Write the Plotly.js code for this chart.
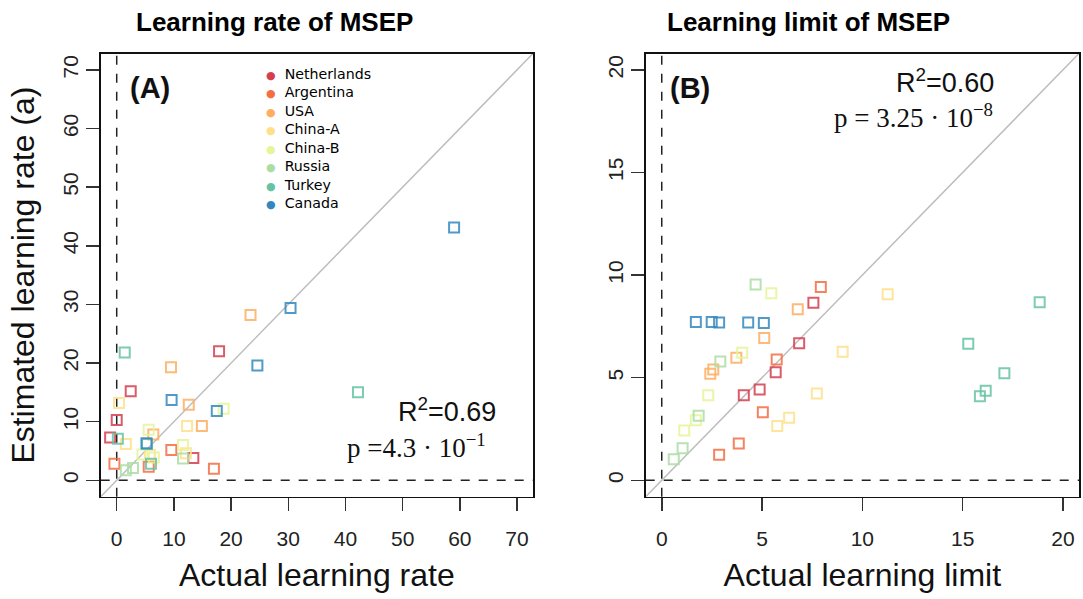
<!DOCTYPE html>
<html>
<head>
<meta charset="utf-8">
<script src="https://cdn.plot.ly/plotly-3.0.1.min.js"></script>
<style>html,body{margin:0;padding:0;background:#fff;}#chart{width:1083px;height:599px;}</style>
</head>
<body>
<div id="chart"></div>
<script>
// ---------- data ----------
const countries = ["Netherlands","Argentina","USA","China-A","China-B","Russia","Turkey","Canada"];
const colors = ["#D53E4F","#F46D43","#FDAE61","#FEE08B","#E6F598","#ABDDA4","#66C2A5","#3288BD"];

// Panel A: learning rate (actual vs estimated)
const rateActual = {
  "Netherlands": [17.9, 2.45, 0.0, -1.15, 13.4],
  "Argentina":   [9.55, -0.4, 5.6, 17.0],
  "USA":         [23.4, 9.5, 12.6, 14.9, 6.4],
  "China-A":     [0.4, 12.3, 1.6, 12.1, 5.8],
  "China-B":     [18.7, 5.6, 11.6, 4.5, 6.5],
  "Russia":      [11.6, 1.6, 2.85],
  "Turkey":      [1.4, 42.2, 0.2, 5.3, 6.0],
  "Canada":      [59.0, 30.4, 24.6, 9.6, 17.5, 5.2]
};
const rateEstimated = {
  "Netherlands": [22.0, 15.2, 10.3, 7.3, 3.8],
  "Argentina":   [5.15, 2.8, 2.3, 1.95],
  "USA":         [28.2, 19.3, 12.9, 9.25, 7.8],
  "China-A":     [13.2, 9.25, 6.2, 4.6, 4.3],
  "China-B":     [12.2, 8.6, 6.0, 4.4, 3.9],
  "Russia":      [3.7, 1.7, 2.1],
  "Turkey":      [21.8, 15.0, 7.1, 6.2, 2.8],
  "Canada":      [43.1, 29.4, 19.6, 13.7, 11.8, 6.3]
};
// Panel B: learning limit (actual vs estimated)
const limitActual = {
  "Netherlands": [7.56, 6.85, 5.68, 4.88, 4.09],
  "Argentina":   [7.93, 5.73, 5.04, 3.84, 2.86],
  "USA":         [6.78, 5.11, 3.72, 2.57, 2.42],
  "China-A":     [11.26, 9.02, 7.73, 6.35, 5.76],
  "China-B":     [5.46, 4.01, 2.32, 1.70, 1.12],
  "Russia":      [4.68, 2.92, 1.84, 1.04, 0.60],
  "Turkey":      [18.84, 15.28, 17.08, 16.15, 15.86],
  "Canada":      [1.70, 2.49, 2.86, 4.31, 5.09]
};
const limitEstimated = {
  "Netherlands": [8.65, 6.68, 5.26, 4.43, 4.14],
  "Argentina":   [9.42, 5.89, 3.31, 1.79, 1.25],
  "USA":         [8.34, 6.94, 5.97, 5.40, 5.19],
  "China-A":     [9.07, 6.26, 4.23, 3.05, 2.64],
  "China-B":     [9.12, 6.21, 4.14, 2.92, 2.43],
  "Russia":      [9.54, 5.79, 3.15, 1.56, 1.02],
  "Turkey":      [8.68, 6.65, 5.22, 4.36, 4.10],
  "Canada":      [7.72, 7.72, 7.69, 7.69, 7.66]
};
const rateTicks = [0,10,20,30,40,50,60,70];
const limitTicks = [0,5,10,15,20];
const rateRange = [-2.8, 72.8];
const limitRange = [-0.8, 20.8];

// ---------- helpers ----------
const W = 1083, H = 599;
const px = v => v / W;
const py = v => 1 - v / H;
const SANS = "Liberation Sans, Arial, sans-serif";
const SERIF = "Liberation Serif, Times New Roman, serif";

const traces = [];
countries.forEach((c, i) => {
  const mk = {symbol: "square-open", size: 10, color: colors[i], opacity: 0.85, line: {width: 2, color: colors[i]}};
  traces.push({type: "scatter", mode: "markers", x: rateActual[c], y: rateEstimated[c],
    xaxis: "x", yaxis: "y", showlegend: false, name: c, marker: mk});
  traces.push({type: "scatter", mode: "markers", x: limitActual[c], y: limitEstimated[c],
    xaxis: "x2", yaxis: "y2", showlegend: false, name: c, marker: mk});
});

const tickFont = {family: SANS, size: 21, color: "#222"};
const titleFont = {family: SANS, size: 32, color: "#111"};
function axis(domain, range, ticks, extra) {
  return Object.assign({
    domain: domain, range: range, autorange: false, tickmode: "array", tickvals: ticks,
    ticktext: ticks.map(String), showgrid: false, zeroline: false,
    showline: true, mirror: true, linecolor: "#111", linewidth: 1.5,
    ticks: "outside", ticklen: 13, tickwidth: 1.5, tickcolor: "#333",
    tickfont: tickFont
  }, extra || {});
}
const xd1 = [px(100.7), px(533)], xd2 = [px(645.7), px(1079)];
const yd = [py(496.7), py(53.5)];

function refLines(xr, yr, rng) {
  return [
    {type: "line", xref: xr, yref: yr + " domain", x0: 0, x1: 0, y0: 0, y1: 1, layer: "below",
     line: {color: "#222", width: 1.5, dash: "dash"}},
    {type: "line", xref: xr + " domain", yref: yr, x0: 0, x1: 1, y0: 0, y1: 0, layer: "below",
     line: {color: "#222", width: 1.5, dash: "dash"}},
    {type: "line", xref: xr, yref: yr, x0: rng[0], x1: rng[1], y0: rng[0], y1: rng[1], layer: "below",
     line: {color: "#BDBDBD", width: 1.5}}
  ];
}

// legend drawn as a text block with coloured dots
const legendText = countries.map((c, i) =>
  '<span style="color:' + colors[i] + ';font-size:11px">●</span>\u00a0\u00a0' + c).join("<br>");

const layout = {
  width: W, height: H,
  margin: {l: 0, r: 0, t: 0, b: 0},
  paper_bgcolor: "#fff", plot_bgcolor: "#fff",
  font: {family: SANS, color: "#111"},
  showlegend: false,
  xaxis: axis(xd1, rateRange, rateTicks, {anchor: "y", ticklabelstandoff: 10,
    title: {text: "Actual learning rate", font: titleFont, standoff: 14}}),
  yaxis: axis(yd, rateRange, rateTicks, {anchor: "x", tickangle: -90,
    title: {text: "Estimated learning rate (a)", font: titleFont, standoff: 14}}),
  xaxis2: axis(xd2, limitRange, limitTicks, {anchor: "y2", ticklabelstandoff: 10,
    title: {text: "Actual learning limit", font: titleFont, standoff: 14}}),
  yaxis2: axis(yd, limitRange, limitTicks, {anchor: "x2", tickangle: -90}),
  shapes: refLines("x", "y", rateRange).concat(refLines("x2", "y2", limitRange)),
  annotations: [
    {xref: "paper", yref: "paper", x: px(134), y: py(22), xanchor: "left", yanchor: "middle",
     text: "<b>Learning rate of MSEP</b>", showarrow: false,
     font: {family: SANS, size: 26, color: "#000"}},
    {xref: "paper", yref: "paper", x: px(665), y: py(22), xanchor: "left", yanchor: "middle",
     text: "<b>Learning limit of MSEP</b>", showarrow: false,
     font: {family: SANS, size: 26, color: "#000"}},
    {xref: "paper", yref: "paper", x: px(150), y: py(88), xanchor: "center", yanchor: "middle",
     text: "<b>(A)</b>", showarrow: false,
     font: {family: SANS, size: 29, color: "#111"}},
    {xref: "paper", yref: "paper", x: px(690), y: py(88), xanchor: "center", yanchor: "middle",
     text: "<b>(B)</b>", showarrow: false,
     font: {family: SANS, size: 29, color: "#111"}},
    {xref: "paper", yref: "paper", x: px(264), y: py(64), xanchor: "left", yanchor: "top", align: "left",
     text: legendText, showarrow: false,
     font: {family: "DejaVu Sans, sans-serif", size: 14.2, color: "#000"}},
    {xref: "paper", yref: "paper", x: px(498), y: py(410), xanchor: "right", yanchor: "middle",
     text: "R<sup>2</sup>=0.69", showarrow: false,
     font: {family: SANS, size: 27, color: "#111"}},
    {xref: "paper", yref: "paper", x: px(488), y: py(446), xanchor: "right", yanchor: "middle",
     text: "p =4.3 · 10<sup>−1</sup>", showarrow: false,
     font: {family: SERIF, size: 27, color: "#111"}},
    {xref: "paper", yref: "paper", x: px(996), y: py(81), xanchor: "right", yanchor: "middle",
     text: "R<sup>2</sup>=0.60", showarrow: false,
     font: {family: SANS, size: 27, color: "#111"}},
    {xref: "paper", yref: "paper", x: px(995), y: py(116), xanchor: "right", yanchor: "middle",
     text: "p = 3.25 · 10<sup>−8</sup>", showarrow: false, bgcolor: "#fff", borderpad: 1,
     font: {family: SERIF, size: 27, color: "#111"}}
  ]
};

Plotly.newPlot("chart", traces, layout, {staticPlot: true, displayModeBar: false});
</script>
</body>
</html>
